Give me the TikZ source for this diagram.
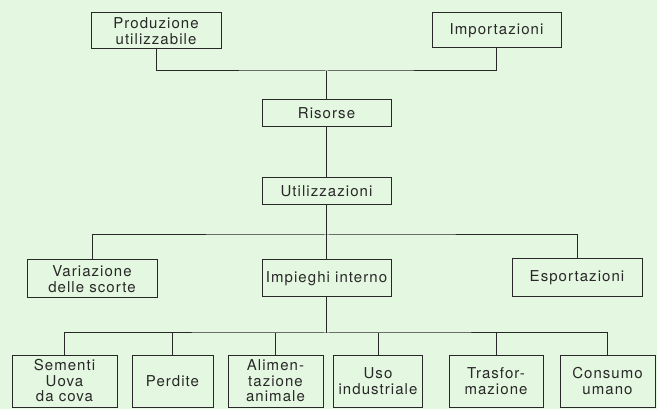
\documentclass[tikz,border=0pt]{standalone}
\usepackage{fontspec}
\setmainfont{TeX Gyre Heros}[LetterSpace=7]
\definecolor{bg}{RGB}{228,247,224}
\definecolor{ink}{RGB}{40,40,40}
\begin{document}
\begin{tikzpicture}[x=1pt,y=-1pt,
  box/.style={draw=ink,line width=1pt,rectangle,inner sep=0pt,align=center,text=ink,
    font=\fontsize{15}{15.5}\selectfont},
  link/.style={draw=ink,line width=1pt}]
\fill[bg] (0,0) rectangle (657,409);
\useasboundingbox (0,0) rectangle (657,409);
% top level
\node[box,minimum width=130pt,minimum height=36pt] (prod) at (156,31) {Produzione\\utilizzabile};
\node[box,minimum width=129pt,minimum height=35pt] (imp) at (496.5,30.5) {Importazioni};
\node[box,minimum width=129pt,minimum height=27pt] (ris) at (326.5,113.5) {Risorse};
\node[box,minimum width=129pt,minimum height=27pt] (util) at (326.5,191.5) {Utilizzazioni};
% middle level
\node[box,minimum width=130pt,minimum height=38pt] (var) at (92,279) {Variazione\\delle scorte};
\node[box,minimum width=129pt,minimum height=37pt] (impint) at (326.5,278.5) {Impieghi interno};
\node[box,minimum width=130pt,minimum height=38pt] (esp) at (577,278) {Esportazioni};
% bottom level
\node[box,minimum width=105pt,minimum height=52pt] (b1) at (64.5,381) {Sementi\\Uova\\da cova};
\node[box,minimum width=81pt,minimum height=52pt] (b2) at (172.5,381) {Perdite};
\node[box,minimum width=95pt,minimum height=52pt] (b3) at (275.5,381) {Alimen-\\tazione\\animale};
\node[box,minimum width=89pt,minimum height=52pt] (b4) at (378,381) {Uso\\industriale};
\node[box,minimum width=94pt,minimum height=52pt] (b5) at (496,381) {Trasfor-\\mazione};
\node[box,minimum width=95pt,minimum height=52pt] (b6) at (607.5,381) {Consumo\\umano};
% junctions
\coordinate (j1) at (326.5,71);
\coordinate (j2) at (326.5,235);
\coordinate (j3) at (326.5,333);
% connectors
\draw[link] (prod.south) |- (j1) -| (imp.south);
\draw[link] (j1) -- (ris.north);
\draw[link] (ris.south) -- (util.north);
\draw[link] (var.north) |- (j2) -| (esp.north);
\draw[link] (util.south) -- (impint.north);
\draw[link] (impint.south) -- (j3);
\draw[link] (b1.north) |- (j3) -| (b6.north);
\foreach \b in {b2,b3,b4,b5} \draw[link] (\b.north) -- (\b.north |- j3);
\end{tikzpicture}
\end{document}
